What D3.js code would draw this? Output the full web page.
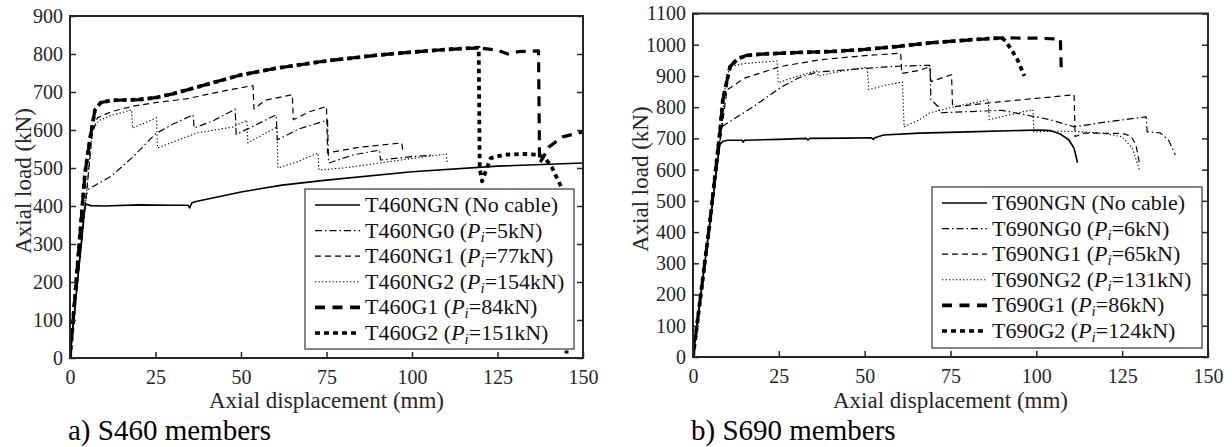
<!DOCTYPE html>
<html>
<head>
<meta charset="utf-8">
<script src="https://cdn.jsdelivr.net/npm/d3@7"></script>
<style>
  body { margin: 0; background: #fff; }
  svg { display: block; }
  text { font-family: "Liberation Serif", "Times New Roman", serif; }
</style>
</head>
<body>
<svg id="chart" width="1232" height="447"></svg>
<script>
// --- data: [axial displacement (mm), axial load (kN)] ---

var xTicks = [0, 25, 50, 75, 100, 125, 150];
var s460YTicks = [0, 100, 200, 300, 400, 500, 600, 700, 800, 900];
var s690YTicks = [0, 100, 200, 300, 400, 500, 600, 700, 800, 900, 1000, 1100];

// S460 members
var s460Names = ["T460NGN", "T460NG0", "T460NG1", "T460NG2", "T460G1", "T460G2"];
var s460Pi = [null, "5", "77", "154", "84", "151"];

var s460_NGN = [[0,0],[4.3,395],[4.7,405],[6,401],[10,400],[20,403],[30,402],[34.5,402],[35,395],[35.6,408],[36.5,411],[50,437],[62,455],[75,468],[100,490],[125,505],[150,513]];
var s460_NG0 = [[0,0],[4.8,430],[5.5,445],[8,458],[12,478],[18.5,530],[25,590],[30,615],[36,640],[36.3,605],[42,625],[48.3,655],[48.6,588],[54,612],[60.3,640],[60.6,574],[67,603],[75.3,626],[75.6,513],[83,535],[90.5,547],[90.8,521],[100,530],[106,534]];
var s460_NG1 = [[0,0],[5,450],[6.5,590],[8,632],[12,648],[18.5,663],[25,672],[34,682],[45,703],[53.5,717],[53.8,655],[57,678],[65,693],[65.3,627],[70,648],[75,662],[75.3,540],[85,555],[97,566],[97.4,540]];
var s460_NG2 = [[0,0],[5,450],[6.5,600],[8.5,625],[12,638],[18,653],[18.3,605],[25.3,632],[25.6,553],[30,568],[37,592],[47.7,608],[51.7,626],[52,566],[60.5,608],[60.8,500],[66,515],[72.5,539],[72.8,495],[80,500],[90.5,513],[100,525],[110,537],[110.3,513]];
var s460_G1 = [[0,0],[4.4,487],[5.8,574],[7.3,653],[9,672],[12,678],[20,680],[25,685],[30,695],[40,720],[50,745],[60,762],[75,782],[90,797],[100,805],[110,812],[119.5,816],[125,810],[128,800],[131,806],[137,808],[137.3,513],[138.5,530],[140,555],[144,582],[150,595]];
var s460_G2 = [[0,0],[4.4,487],[5.8,574],[7.3,653],[9,672],[12,678],[20,680],[25,685],[30,695],[40,720],[50,745],[60,762],[75,782],[90,797],[100,805],[110,812],[119.5,817],[119.8,500],[120.5,465],[121.5,490],[123,526],[127,535],[133,537],[137,535],[139,525],[141,500],[143,462],[144.8,430],[145.2,12]];

// S690 members
var s690Names = ["T690NGN", "T690NG0", "T690NG1", "T690NG2", "T690G1", "T690G2"];
var s690Pi = [null, "6", "65", "131", "86", "124"];

var s690_NGN = [[0,0],[7.8,680],[8.7,690],[10,694],[14.3,694],[14.6,688],[15,694],[25,697],[33,700],[33.5,695],[34,700],[45,701],[52,702],[52.5,697],[53,702],[55.5,711],[66,717],[80,721],[101,727],[104,725],[107,714],[109.5,695],[111,668],[112,622]];
var s690_NG0 = [[0,0],[8.3,730],[8.7,740],[17.5,801],[25.4,862],[31,895],[36,912],[45,920],[55,928],[61,932],[69,934],[69.3,824],[71.5,801],[71.8,782],[90,790],[104,760],[111,737],[120,752],[132,769],[132.3,721],[136,718],[138.5,695],[140.5,648]];
var s690_NG1 = [[0,0],[8,700],[9.9,855],[15,893],[25.4,930],[37,952],[50,965],[60.5,973],[60.8,908],[66,918],[69,930],[69.3,882],[75.3,904],[75.6,801],[90,818],[100,828],[111,840],[111.3,706],[114,717],[125,716],[127.5,708],[129,680],[130,622]];
var s690_NG2 = [[0,0],[8.5,760],[9.5,880],[10.8,930],[15,940],[24.5,948],[24.8,878],[30,898],[36,917],[36.5,900],[43,915],[50.7,928],[51.2,856],[56,870],[61,881],[61.5,737],[66,760],[69,782],[76,801],[86,824],[86.3,760],[92,775],[99,792],[99.3,721],[105,723],[112,722],[120,716],[125,705],[128,668],[130,600]];
var s690_G1 = [[0,0],[5,440],[7.9,727],[8.7,824],[10.8,930],[13,955],[15.7,966],[20,970],[30,975],[40,978],[50,985],[60,995],[69,1006],[80,1015],[90,1022],[100,1021],[107,1018],[107.3,910]];
var s690_G2 = [[0,0],[5,440],[7.9,727],[8.7,824],[10.8,930],[13,955],[15.7,966],[20,970],[30,975],[40,978],[50,985],[60,995],[69,1006],[80,1015],[90,1022],[91,1012],[93,980],[94.5,952],[96.5,900]];

// line styles, same order as the legend entries
var lineStyles = [
    { dash: null,          width: 1.6 },  // NGN solid
    { dash: "7,3,1.5,3",   width: 1.2 },  // NG0 dash-dot
    { dash: "6,4",         width: 1.2 },  // NG1 dashed
    { dash: "1.3,2.2",     width: 1.1 },  // NG2 dotted
    { dash: "10,7",        width: 3.2 },  // G1 thick dashed
    { dash: "4.5,4",       width: 3.8 }   // G2 thick dotted
];

var svg = d3.select("#chart");
var axisColor = "#262626";

function drawPanel(p) {
    var x = d3.scaleLinear().domain([0, 150]).range([p.x0, p.x1]);
    var y = d3.scaleLinear().domain([0, p.yMax]).range([p.y1, p.y0]);

    var g = svg.append("g");

    g.append("clipPath").attr("id", p.id + "clip")
        .append("rect")
        .attr("x", p.x0).attr("y", p.y0)
        .attr("width", p.x1 - p.x0).attr("height", p.y1 - p.y0);

    var line = d3.line().x(d => x(d[0])).y(d => y(d[1]));

    var plot = g.append("g").attr("clip-path", "url(#" + p.id + "clip)");
    p.series.forEach(function(s, i) {
        var st = lineStyles[i];
        plot.append("path")
            .attr("d", line(s))
            .attr("fill", "none")
            .attr("stroke", "#000")
            .attr("stroke-width", st.width)
            .attr("stroke-dasharray", st.dash)
            .attr("stroke-linejoin", "round");
    });

    // axes with inward ticks
    var ax = g.append("g").attr("transform", "translate(0," + p.y1 + ")")
        .call(d3.axisBottom(x).tickValues(xTicks).tickSizeInner(-6).tickSizeOuter(0).tickPadding(12));
    var ay = g.append("g").attr("transform", "translate(" + p.x0 + ",0)")
        .call(d3.axisLeft(y).tickValues(p.yTicks).tickFormat(d3.format("d"))
            .tickSizeInner(-6).tickSizeOuter(0).tickPadding(7));
    var ayr = g.append("g").attr("transform", "translate(" + p.x1 + ",0)")
        .call(d3.axisRight(y).tickValues(p.yTicks).tickSizeInner(-6).tickSizeOuter(0).tickFormat(""));

    [ax, ay, ayr].forEach(function(a) {
        a.select(".domain").remove();
        a.selectAll(".tick line").attr("stroke", axisColor).attr("stroke-width", 1.5);
        a.selectAll(".tick text")
            .attr("fill", axisColor)
            .style("font-size", "20px")
            .style("font-family", "'Liberation Serif', serif");
    });

    g.append("rect")
        .attr("x", p.x0).attr("y", p.y0)
        .attr("width", p.x1 - p.x0).attr("height", p.y1 - p.y0)
        .attr("fill", "none").attr("stroke", axisColor).attr("stroke-width", 2);

    // axis labels
    g.append("text")
        .attr("x", (p.x0 + p.x1) / 2).attr("y", 408)
        .attr("text-anchor", "middle")
        .attr("fill", axisColor)
        .style("font-size", "23px")
        .text("Axial displacement (mm)");

    g.append("text")
        .attr("transform", "translate(" + p.ylabX + "," + ((p.y0 + p.y1) / 2 - 6) + ") rotate(-90)")
        .attr("text-anchor", "middle")
        .attr("fill", axisColor)
        .style("font-size", "23px")
        .text("Axial load (kN)");

    // panel caption
    g.append("text")
        .attr("x", p.x0 - 2).attr("y", 440)
        .attr("fill", "#000")
        .style("font-size", "29px")
        .text(p.title);

    // legend
    var L = p.legend;
    g.append("rect")
        .attr("x", L.x).attr("y", L.y).attr("width", L.w).attr("height", L.h)
        .attr("fill", "#fff").attr("stroke", "#444").attr("stroke-width", 1.3);

    p.names.forEach(function(name, i) {
        var ry = L.y + 16 + i * 25.6;
        var st = lineStyles[i];
        g.append("line")
            .attr("x1", L.x + 10).attr("x2", L.x + 55)
            .attr("y1", ry).attr("y2", ry)
            .attr("stroke", "#000")
            .attr("stroke-width", i >= 4 ? 3.6 : st.width)
            .attr("stroke-dasharray", i === 5 ? "5,4" : (i === 4 ? "10,7.5" : st.dash));

        var t = g.append("text")
            .attr("x", L.x + 60).attr("y", ry + 7)
            .attr("fill", "#111")
            .style("font-size", "22px");
        t.append("tspan").text(name);
        if (p.pi[i] === null) {
            t.append("tspan").text(" (No cable)");
        } else {
            t.append("tspan").text(" (");
            t.append("tspan").style("font-style", "italic").text("P");
            t.append("tspan").style("font-style", "italic").style("font-size", "15px")
                .attr("dy", 4).text("i");
            t.append("tspan").attr("dy", -4).text("=" + p.pi[i] + "kN)");
        }
    });
}

drawPanel({
    id: "a",
    x0: 70, x1: 583, y0: 16, y1: 358, yMax: 900,
    yTicks: s460YTicks,
    ylabX: 31,
    title: "a) S460 members",
    series: [s460_NGN, s460_NG0, s460_NG1, s460_NG2, s460_G1, s460_G2],
    names: s460Names, pi: s460Pi,
    legend: { x: 305, y: 189, w: 269, h: 160 }
});

drawPanel({
    id: "b",
    x0: 693, x1: 1208, y0: 13.5, y1: 357, yMax: 1100,
    yTicks: s690YTicks,
    ylabX: 648,
    title: "b) S690 members",
    series: [s690_NGN, s690_NG0, s690_NG1, s690_NG2, s690_G1, s690_G2],
    names: s690Names, pi: s690Pi,
    legend: { x: 932, y: 187, w: 270, h: 161 }
});
</script>
</body>
</html>
